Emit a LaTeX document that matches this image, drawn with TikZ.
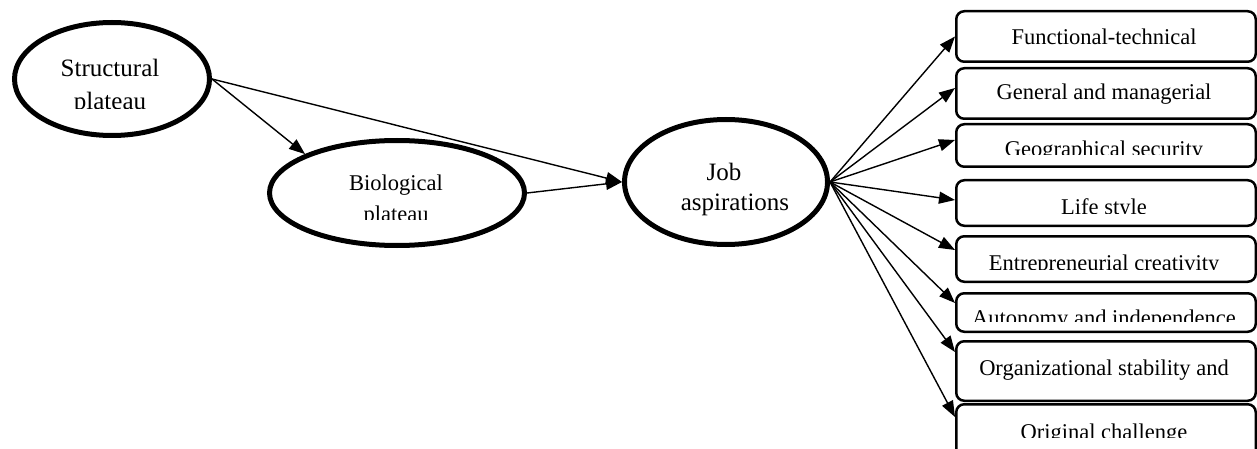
\documentclass[tikz,border=0pt]{standalone}
\usepackage{fontspec}
\setmainfont{Liberation Serif}
\usepackage{tikz}
\usetikzlibrary{shapes.geometric,arrows.meta}

\begin{document}
\begin{tikzpicture}[x=1pt,y=-1pt,
  plateau/.style={ellipse,draw,line width=5pt,inner sep=0pt},
  aspbox/.style={draw,rounded corners=8pt,line width=2.5pt,minimum width=299.5pt,inner sep=0pt},
  arr/.style={line width=1.4pt,-{Triangle[length=16pt,width=12pt]}},
  bigtxt/.style={font=\fontsize{25}{30}\selectfont,anchor=base,inner sep=0pt},
  boxtxt/.style={font=\fontsize{22.5}{27}\selectfont,anchor=base,inner sep=0pt}]
\useasboundingbox (0,0) rectangle (1257,449);

% ellipses
\node[plateau,minimum width=195pt,minimum height=113pt] (struct) at (112,79) {};
\node[plateau,minimum width=255pt,minimum height=105pt] (bio) at (397,193) {};
\node[plateau,minimum width=203pt,minimum height=125pt] (job) at (726,182) {};

\node[bigtxt] (struct1) at (110,77) {Structural};
\begin{scope}
\clip (20,0) rectangle (205,109);
\node[bigtxt] (struct2) at (110,110) {plateau};
\end{scope}
\node[boxtxt] (bio1) at (396,190) {Biological};
\begin{scope}
\clip (280,0) rectangle (515,219);
\node[boxtxt] (bio2) at (396,221) {plateau};
\end{scope}
\node[bigtxt] (job1) at (724,180) {Job};
\node[bigtxt] (job2) at (735,210) {aspirations};

% boxes
\node[aspbox,minimum height=50.5pt] (b1) at (1106,36.5) {};
\node[aspbox,minimum height=50.5pt] (b2) at (1106,93.5) {};
\node[aspbox,minimum height=42.5pt] (b3) at (1106,145.5) {};
\node[aspbox,minimum height=45.5pt] (b4) at (1106,203) {};
\node[aspbox,minimum height=45.5pt] (b5) at (1106,259) {};
\node[aspbox,minimum height=38.5pt] (b6) at (1106,312.5) {};
\node[aspbox,minimum height=59.5pt] (b7) at (1106,371) {};
\node[aspbox,minimum height=54.5pt] (b8) at (1106,431.5) {};

\node[boxtxt] (t1) at (1104,45) {Functional-technical};
\node[boxtxt] (t2) at (1104,100) {General and managerial};
\begin{scope}
\clip (958,0) rectangle (1254,155);
\node[boxtxt] (t3) at (1104,157) {Geographical security};
\end{scope}
\begin{scope}
\clip (958,0) rectangle (1254,213);
\node[boxtxt] (t4) at (1104,214) {Life style};
\end{scope}
\begin{scope}
\clip (958,0) rectangle (1254,269);
\node[boxtxt] (t5) at (1104,270) {Entrepreneurial creativity};
\end{scope}
\begin{scope}
\clip (958,0) rectangle (1254,321);
\node[boxtxt] (t6) at (1104,325) {Autonomy and independence};
\end{scope}
\node[boxtxt] (t7) at (1104,375) {Organizational stability and};
\begin{scope}
\clip (958,0) rectangle (1254,437);
\node[boxtxt] (t8) at (1104,439) {Original challenge};
\end{scope}

% arrows
\draw[arr] (struct.east) -- (bio.north west);
\draw[arr] (struct.east) -- (job.west);
\draw[arr] (bio.east) -- (job.west);

\draw[arr] (job.east) -- (b1.west);
\draw[arr] (job.east) -- ([yshift=5.5pt]b2.west);
\draw[arr] (job.east) -- ([yshift=5.5pt]b3.west);
\draw[arr] (job.east) -- ([yshift=3pt]b4.west);
\draw[arr] (job.east) -- ([yshift=9pt]b5.west);
\draw[arr] (job.east) -- ([yshift=9.5pt]b6.west);
\draw[arr] (job.east) -- ([yshift=19pt]b7.west);
\draw[arr] (job.east) -- ([yshift=14.5pt]b8.west);
\end{tikzpicture}
\end{document}
